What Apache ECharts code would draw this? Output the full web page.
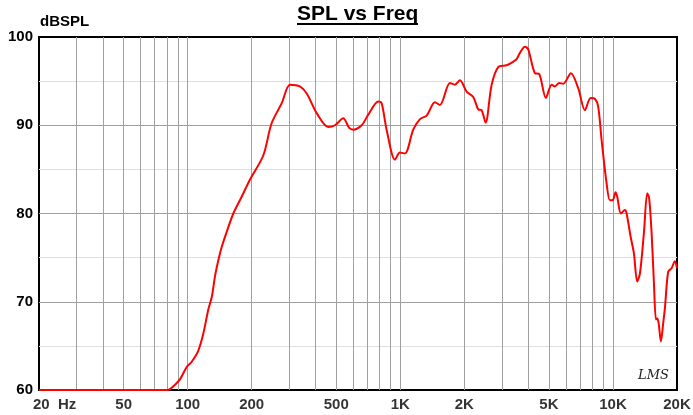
<!DOCTYPE html>
<html><head><meta charset="utf-8">
<script src="https://cdn.jsdelivr.net/npm/echarts@6/dist/echarts.min.js"></script>
<style>html,body{margin:0;padding:0;background:#fff}#c{width:693px;height:415px}</style>
</head><body><div id="c"></div>
<script>
const freqs = [20, 40, 80, 82.6, 87.2, 92, 99, 104.5, 112, 118.5, 125, 130, 134.5, 139.4, 144.6, 152.6, 164, 179.5, 196, 227, 248, 277, 303, 337, 363, 404, 458, 493, 539, 575, 601, 658, 707, 788, 817, 862, 944, 996, 1051, 1150, 1237, 1330, 1455, 1536, 1711, 1806, 1907, 2050, 2202, 2325, 2412, 2518, 2688, 2886, 3162, 3396, 3524, 3652, 3855, 3994, 4294, 4500, 4836, 5146, 5335, 5588, 5834, 6342, 6864, 7378, 7850, 8222, 8522, 8842, 9334, 9672, 9960, 10290, 10470, 10900, 11380, 11590, 12100, 12540, 13000, 13390, 13980, 14490, 14800, 15190, 15580, 15920, 16140, 16390, 16800, 17230, 17550, 18180, 18860, 19550, 20000];
const spl = [60, 60, 60, 60.1, 60.6, 61.2, 62.6, 63.2, 64.4, 66.4, 69.1, 70.6, 72.9, 74.7, 76.2, 77.9, 80.0, 81.9, 83.8, 86.6, 90.2, 92.5, 94.6, 94.4, 93.6, 91.4, 89.8, 90.0, 90.8, 89.7, 89.5, 90.0, 91.2, 92.7, 92.5, 89.5, 86.1, 86.9, 86.8, 89.5, 90.7, 91.1, 92.6, 92.3, 94.8, 94.6, 95.1, 93.8, 93.2, 91.8, 91.7, 90.3, 94.6, 96.6, 96.8, 97.2, 97.5, 98.2, 98.9, 98.6, 95.9, 95.8, 93.1, 94.6, 94.4, 94.8, 94.7, 95.9, 94.2, 91.7, 93.1, 93.0, 92.1, 88.3, 83.4, 81.5, 81.5, 82.4, 81.9, 80.0, 80.4, 80.0, 77.4, 75.5, 72.3, 73.2, 77.8, 82.3, 81.7, 77.8, 72.1, 68.0, 68.1, 67.6, 65.5, 67.6, 69.3, 73.4, 73.8, 74.6, 73.8];
const xGridFreqs = [30, 40, 50, 60, 70, 80, 90, 100, 200, 300, 400, 500, 600, 700, 800, 900, 1000, 2000, 3000, 4000, 5000, 6000, 7000, 8000, 9000, 10000];
const xTickFreqs = [20, 50, 100, 200, 500, 1000, 2000, 5000, 10000, 20000];
const xTickLabels = ['20  Hz', '50', '100', '200', '500', '1K', '2K', '5K', '10K', '20K'];
const yMin = 60, yMax = 100, yStep = 10;
const titleText = 'SPL vs Freq';
const yUnit = 'dBSPL';
const logoText = 'LMS';

const FONT = '"Liberation Sans", Arial, Helvetica, sans-serif';
const chart = echarts.init(document.getElementById('c'), null, {renderer: 'canvas'});

const gridLineData = xGridFreqs.map(f => ({xAxis: f}));
const tickLabelData = xTickFreqs.map((f, i) => ({
  value: [f, yMin],
  label: {
    formatter: xTickLabels[i],
    align: i === 0 ? 'left' : 'center',
    offset: i === 0 ? [-6, 0] : [0, 0]
  }
}));

chart.setOption({
  animation: false,
  backgroundColor: '#fff',
  grid: {left: 39, right: 16, top: 37, bottom: 25, show: true, borderColor: '#000', borderWidth: 2, backgroundColor: 'transparent'},
  xAxis: {
    type: 'log', logBase: 10, min: 20, max: 20000,
    axisLine: {show: false}, axisTick: {show: false}, axisLabel: {show: false},
    splitLine: {show: false}, minorSplitLine: {show: false}
  },
  yAxis: {
    type: 'value', min: yMin, max: yMax, interval: yStep,
    axisLine: {show: false}, axisTick: {show: false},
    axisLabel: {color: '#000', fontSize: 15, fontWeight: 'bold', fontFamily: FONT, margin: 6},
    splitLine: {show: true, showMinLine: false, showMaxLine: false, lineStyle: {color: '#a0a0a0', width: 1}},
    minorTick: {show: false, splitNumber: 2},
    minorSplitLine: {show: true, lineStyle: {color: '#dedede', width: 1}}
  },
  graphic: [
    {type: 'text', left: 297, top: 4, style: {text: titleText, font: 'bold 21px ' + FONT, fill: '#000'}},
    {type: 'rect', left: 297, top: 23, shape: {width: 121, height: 2}, style: {fill: '#000'}},
    {type: 'text', left: 40, top: 14, style: {text: yUnit, font: 'bold 15px ' + FONT, fill: '#000'}},
    {type: 'text', left: 638, top: 369, style: {text: logoText, font: 'italic 13px "DejaVu Serif", serif', fill: '#222'}}
  ],
  series: [
    {
      type: 'line', data: [], z: 1, silent: true,
      markLine: {silent: true, symbol: ['none', 'none'], label: {show: false},
        lineStyle: {type: 'solid', color: '#a0a0a0', width: 1}, data: gridLineData}
    },
    {
      type: 'scatter', z: 1, silent: true, clip: false, symbolSize: 0.001,
      itemStyle: {color: 'rgba(0,0,0,0)'},
      label: {show: true, position: 'bottom', distance: 7,
        color: '#000', fontSize: 15, fontWeight: 'bold', fontFamily: FONT},
      data: tickLabelData
    },
    {
      type: 'line', z: 5, showSymbol: false, smooth: 0.3,
      lineStyle: {color: '#ff0000', width: 2}, itemStyle: {color: '#ff0000'},
      data: freqs.map((f, i) => [f, spl[i]])
    }
  ]
});
</script></body></html>
